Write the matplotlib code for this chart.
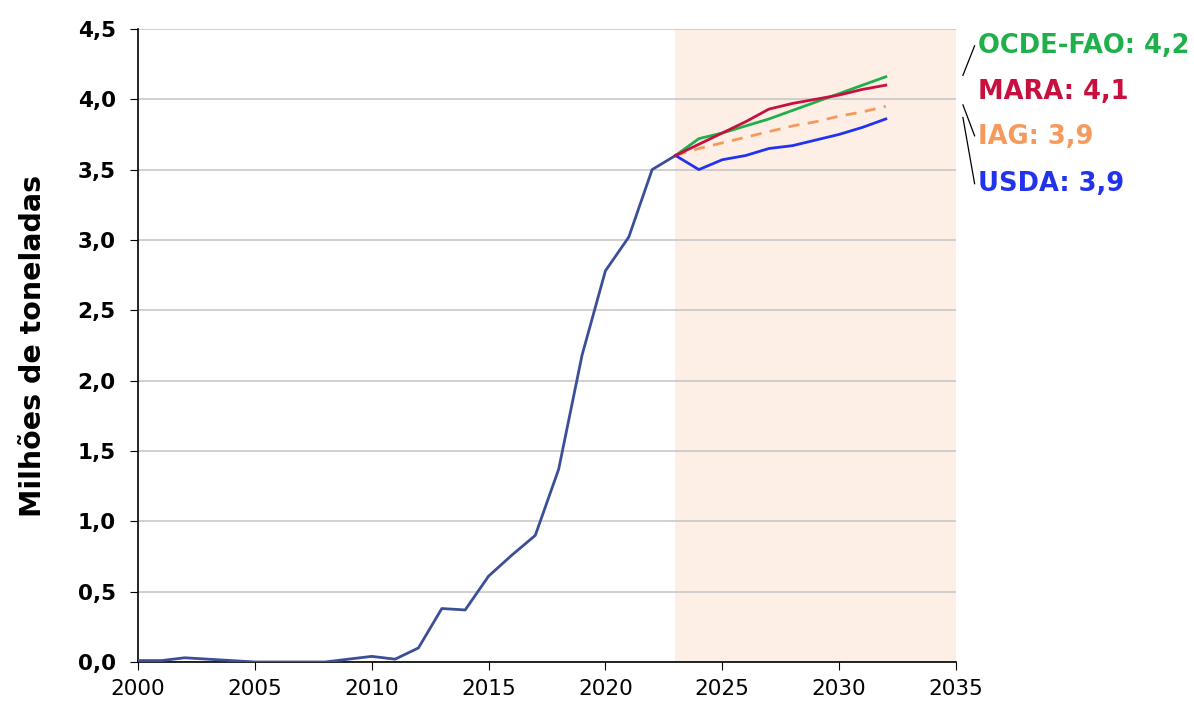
import matplotlib.pyplot as plt
from matplotlib.ticker import FuncFormatter

# historical production (million tonnes)
hist_years = list(range(2000, 2024))
hist_vals = [0.01, 0.01, 0.03, 0.02, 0.01, 0.0, 0.0, 0.0, 0.0, 0.02, 0.04, 0.02,
             0.10, 0.38, 0.37, 0.61, 0.76, 0.90, 1.37, 2.18, 2.78, 3.02, 3.50, 3.60]

# projections 2023-2032
proj_years = list(range(2023, 2033))
ocde_fao = [3.60, 3.72, 3.76, 3.81, 3.86, 3.92, 3.98, 4.04, 4.10, 4.16]
mara = [3.60, 3.68, 3.76, 3.84, 3.93, 3.97, 4.00, 4.03, 4.07, 4.10]
iag = [3.60, 3.65, 3.69, 3.73, 3.77, 3.81, 3.84, 3.88, 3.91, 3.95]
usda = [3.60, 3.50, 3.57, 3.60, 3.65, 3.67, 3.71, 3.75, 3.80, 3.86]

labels = ['OCDE-FAO: 4,2', 'MARA: 4,1', 'IAG: 3,9', 'USDA: 3,9']
label_colors = ['#20b04b', '#c8103e', '#f59a5c', '#2233ee']

fig = plt.figure(figsize=(11.94, 7.05), dpi=100)
ax = fig.add_axes([0.1156, 0.061, 0.685, 0.898])

ax.axvspan(2023, 2035, color='#fdefe6', zorder=0, lw=0)
ax.grid(axis='y', color='#c8c8c8', lw=1.2, zorder=1)

ax.plot(hist_years, hist_vals, color='#3b4f99', lw=2, zorder=3)
ax.plot(proj_years, ocde_fao, color=label_colors[0], lw=2, zorder=4)
ax.plot(proj_years, mara, color=label_colors[1], lw=2, zorder=5)
ax.plot(proj_years, iag, color=label_colors[2], lw=2, ls=(0, (4, 3)), zorder=4)
ax.plot(proj_years, usda, color=label_colors[3], lw=2, zorder=4)

ax.set_xlim(2000, 2035)
ax.set_ylim(0, 4.5)
ax.set_xticks(range(2000, 2036, 5))
ax.set_yticks([i * 0.5 for i in range(10)])
ax.yaxis.set_major_formatter(FuncFormatter(lambda v, p: f'{v:.1f}'.replace('.', ',')))

for s in ['top', 'right']:
    ax.spines[s].set_visible(False)
for s in ['left', 'bottom']:
    ax.spines[s].set_color('black')
    ax.spines[s].set_linewidth(1.2)

ax.tick_params(axis='both', direction='out', length=6, color='black')
ax.tick_params(axis='x', labelsize=15.5, pad=6)
ax.tick_params(axis='y', labelsize=15.5, pad=10)
for t in ax.get_yticklabels():
    t.set_fontweight('bold')

ax.set_ylabel('Milhões de toneladas', fontsize=20.5, fontweight='bold', labelpad=22)

# right-side labels with connectors
label_y = [4.38, 4.05, 3.73, 3.40]
for txt, c, yy in zip(labels, label_colors, label_y):
    ax.text(2035.94, yy, txt, color=c, fontsize=18.5, fontweight='bold',
            va='center', ha='left', clip_on=False)

conn = [((2035.3, 4.17), (2035.8, 4.38)),
        ((2035.3, 3.96), (2035.8, 3.74)),
        ((2035.3, 3.87), (2035.8, 3.40))]
for (x0, y0), (x1, y1) in conn:
    ax.plot([x0, x1], [y0, y1], color='black', lw=0.9, clip_on=False)

fig.savefig('out.png', dpi=100)
